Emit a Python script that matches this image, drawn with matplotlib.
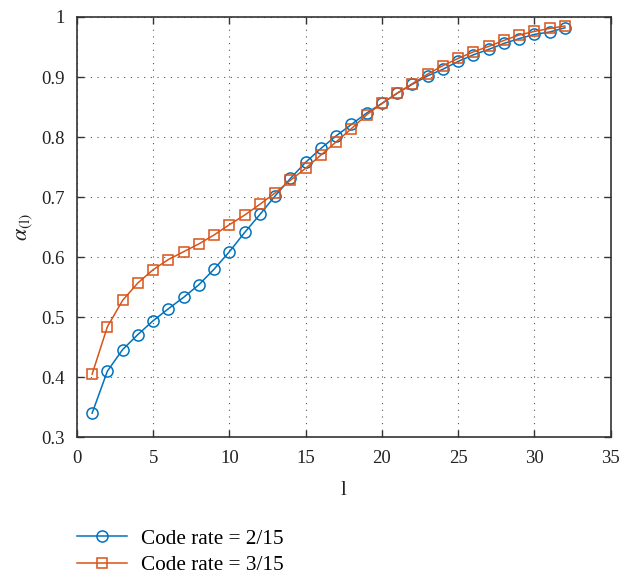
import matplotlib
matplotlib.use("Agg")
import matplotlib.pyplot as plt
import numpy as np
from matplotlib.ticker import FuncFormatter

# layer index l and the two alpha curves
l = np.arange(1, 33)
alpha_2_15 = [0.340, 0.410, 0.446, 0.471, 0.494, 0.514, 0.533, 0.554, 0.580, 0.609,
              0.641, 0.671, 0.702, 0.731, 0.758, 0.781, 0.802, 0.821, 0.840, 0.856,
              0.873, 0.888, 0.902, 0.913, 0.926, 0.937, 0.946, 0.956, 0.964, 0.971,
              0.975, 0.982]
alpha_3_15 = [0.405, 0.484, 0.528, 0.557, 0.579, 0.596, 0.609, 0.622, 0.637, 0.654,
              0.670, 0.688, 0.707, 0.728, 0.748, 0.770, 0.792, 0.814, 0.837, 0.856,
              0.873, 0.889, 0.905, 0.919, 0.931, 0.942, 0.951, 0.961, 0.970, 0.976,
              0.981, 0.985]
labels = ["Code rate = 2/15", "Code rate = 3/15"]

plt.rcParams['font.family'] = ['Liberation Serif', 'DejaVu Serif']
plt.rcParams['mathtext.fontset'] = 'stix'

fig = plt.figure(figsize=(6.2, 5.76), dpi=100)
ax = fig.add_axes([0.124, 0.241, 0.861, 0.7295])

ax.plot(l, alpha_2_15, color='#0072BD', lw=1.1, marker='o', ms=8,
        mfc='none', mew=1.1, label=labels[0])
ax.plot(l, alpha_3_15, color='#D95319', lw=1.1, marker='s', ms=7,
        mfc='none', mew=1.1, label=labels[1])

ax.set_xlim(0, 35)
ax.set_ylim(0.3, 1.0)
ax.set_xticks(np.arange(0, 36, 5))
ax.set_yticks(np.arange(0.3, 1.01, 0.1))
ax.yaxis.set_major_formatter(FuncFormatter(lambda v, p: '%g' % round(v, 2)))
ax.grid(True, linestyle=(0, (1, 5)), color='#555555', lw=0.8)
ax.tick_params(direction='in', top=True, right=True, labelsize=13.5,
               length=5, width=1, colors='#333333', labelcolor='#222222')
ax.tick_params(axis='y', pad=9)
ax.tick_params(axis='x', pad=9)
for s in ax.spines.values():
    s.set_color('#333333')
    s.set_linewidth(1.2)

ax.set_xlabel('l', fontsize=15, color='#222222', labelpad=10)
ax.set_ylabel(r'$\alpha_{(\mathrm{l})}$', fontsize=16, color='#222222', labelpad=4)

fig.legend(loc='upper left', bbox_to_anchor=(0.124, 0.0815), frameon=False,
           fontsize=15.3, handlelength=2.35, handletextpad=0.67,
           labelspacing=0.3, borderpad=0, borderaxespad=0)

fig.savefig('out.png', dpi=100)
